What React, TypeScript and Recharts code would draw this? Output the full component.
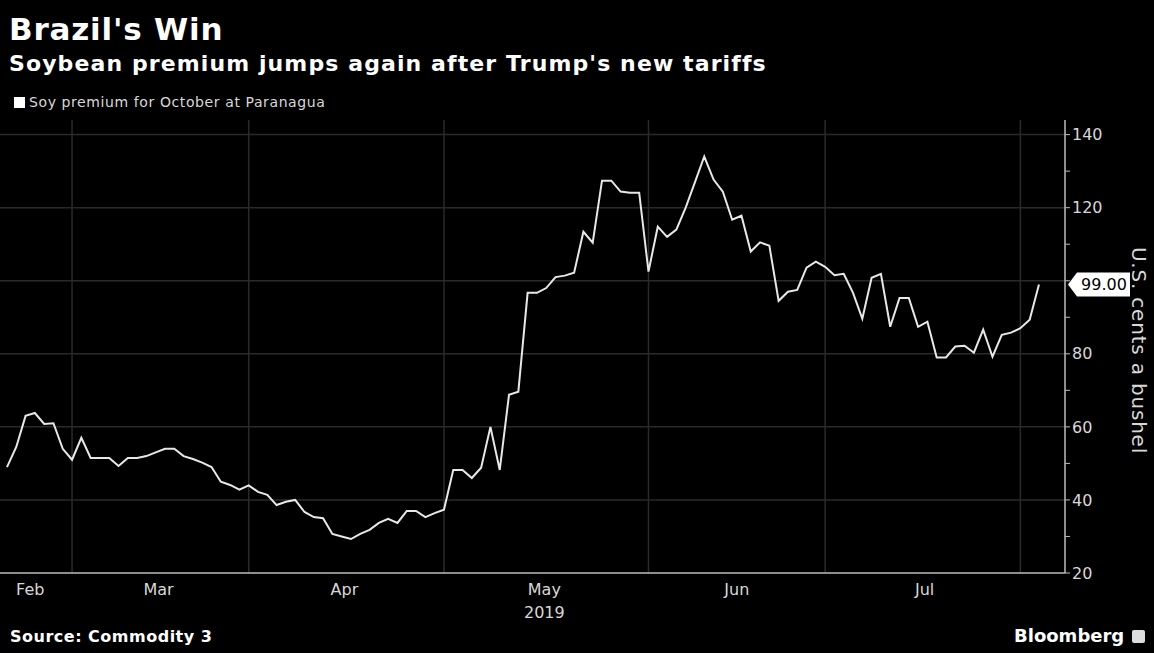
import { LineChart, Line, XAxis, YAxis, ReferenceLine } from 'recharts'

// daily trading-day series, Feb 20 → Aug 2 2019
const premium = [
  49, 54.5, 63, 63.8, 60.8, 61, 54, 51, 57, 51.5, 51.5, 51.5, 49.3, 51.5, 51.5, 52,
  53, 54, 54, 52, 51.2, 50.2, 49, 45, 44.1, 42.8, 44, 42.2, 41.4, 38.6, 39.5, 40,
  36.7, 35.3, 35, 30.7, 30, 29.3, 30.7, 31.8, 33.7, 34.8, 33.7, 37, 37, 35.3, 36.4,
  37.3, 48.2, 48.2, 46, 48.8, 60, 48.2, 68.8, 69.6, 96.7, 96.7, 98, 101, 101.4,
  102.2, 113.4, 110.4, 127.4, 127.4, 124.4, 124.1, 124.1, 102.5, 114.8, 112, 114,
  120, 127, 134, 127.7, 124.4, 116.7, 117.8, 108, 110.5, 109.6, 94.5, 97, 97.5,
  103.6, 105.2, 103.8, 101.5, 101.9, 96.7, 89.6, 100.8, 101.9, 87.4, 95.3, 95.3,
  87.4, 88.8, 79, 79, 82, 82.2, 80.3, 86.6, 79.2, 85.2, 85.8, 87, 89.3, 99,
]

const monthLabels = ['Feb', 'Mar', 'Apr', 'May', 'Jun', 'Jul']
const monthMids = [2.5, 16.3, 36.3, 57.8, 78.5, 98.7]
const monthStarts = [7, 26, 47, 69, 88, 109]

const yTicks = [20, 30, 40, 50, 60, 70, 80, 90, 100, 110, 120, 130, 140]
const yLabelled = [20, 40, 60, 80, 120, 140]
const yGrid = [40, 60, 80, 100, 120, 140]

const data = premium.map((v, i) => ({ i, v }))
const last = premium[premium.length - 1]

const axisFont = '"DejaVu Sans", Verdana, sans-serif'
const boldFont = '"DejaVu Sans", Verdana, sans-serif'

function MonthTick(props: any) {
  const { x, y, index } = props
  const label = monthLabels[index]
  return (
    <g>
      <text x={x} y={y + 14} textAnchor="middle" fill="#d8d8d8" fontSize={16} fontFamily={axisFont}>
        {label}
      </text>
      {label === 'May' && (
        <text x={x} y={y + 37} textAnchor="middle" fill="#d8d8d8" fontSize={16} fontFamily={axisFont}>
          2019
        </text>
      )}
    </g>
  )
}

function LastValue(props: any) {
  const { viewBox } = props
  const x = viewBox.x + viewBox.width + 3
  const y = viewBox.y
  const pts = `${x},${y} ${x + 9},${y - 12} ${x + 62},${y - 12} ${x + 62},${y + 12} ${x + 9},${y + 12}`
  return (
    <g>
      <polygon points={pts} fill="#ffffff" />
      <text x={x + 36} y={y + 6} textAnchor="middle" fill="#000" fontSize={16} fontFamily={axisFont}>
        {last.toFixed(2)}
      </text>
    </g>
  )
}

function UnitLabel(props: any) {
  const { viewBox } = props
  const cx = viewBox.x + viewBox.width - 15
  const cy = viewBox.y + viewBox.height / 2 + 4
  return (
    <text
      x={cx}
      y={cy}
      transform={`rotate(90, ${cx}, ${cy})`}
      textAnchor="middle"
      dominantBaseline="central"
      fill="#d8d8d8"
      fontSize={20}
      letterSpacing={0.8}
      fontFamily={axisFont}
    >
      U.S. cents a bushel
    </text>
  )
}

export default function App() {
  return (
    <div style={{ position: 'absolute', left: 0, top: 0, width: 1154, height: 653, background: '#000', overflow: 'hidden' }}>
      <div style={{ position: 'absolute', left: 9, top: 11, color: '#fff', fontFamily: boldFont, fontWeight: 'bold', fontSize: 31, letterSpacing: 0.8, lineHeight: '36px' }}>
        Brazil's Win
      </div>
      <div style={{ position: 'absolute', left: 9, top: 50, color: '#fff', fontFamily: boldFont, fontWeight: 'bold', fontSize: 22, letterSpacing: 1.1, lineHeight: '28px' }}>
        Soybean premium jumps again after Trump's new tariffs
      </div>
      <div style={{ position: 'absolute', left: 14, top: 93, color: '#d8d8d8', fontFamily: axisFont, fontSize: 14, letterSpacing: 0.6, lineHeight: '18px', display: 'flex', alignItems: 'center' }}>
        <span style={{ display: 'inline-block', width: 11, height: 11, background: '#fff', marginRight: 4 }} />
        Soy premium for October at Paranagua
      </div>

      <LineChart width={1154} height={653} data={data} margin={{ top: 120, right: 0, bottom: 0, left: 0 }}>
        {yGrid.map((v) => (
          <ReferenceLine key={'h' + v} y={v} stroke="#2a2a2a" strokeWidth={1.5} />
        ))}
        {monthStarts.map((v) => (
          <ReferenceLine key={'v' + v} x={v} stroke="#2a2a2a" strokeWidth={1.5} />
        ))}
        <XAxis
          dataKey="i"
          type="number"
          domain={[-0.75, 113.8]}
          ticks={monthMids}
          interval={0}
          tickLine={false}
          axisLine={{ stroke: '#bdbdbd', strokeWidth: 1.5 }}
          tick={<MonthTick />}
          height={80}
        />
        <YAxis
          orientation="right"
          domain={[20, 144]}
          ticks={yTicks}
          interval={0}
          width={89}
          tickSize={5}
          tickMargin={2}
          tickLine={{ stroke: '#bdbdbd' }}
          axisLine={{ stroke: '#bdbdbd', strokeWidth: 1.5 }}
          tick={{ fill: '#d8d8d8', fontSize: 16, fontFamily: axisFont }}
          tickFormatter={(v: number) => (yLabelled.includes(v) ? String(v) : '')}
          allowDataOverflow
          label={<UnitLabel />}
        />
        <ReferenceLine y={last} stroke="none" label={<LastValue />} />
        <Line
          type="linear"
          dataKey="v"
          stroke="#e8e8e8"
          strokeWidth={2}
          dot={false}
          isAnimationActive={false}
        />
      </LineChart>

      <div style={{ position: 'absolute', left: 10, top: 627, color: '#fff', fontFamily: boldFont, fontWeight: 'bold', fontSize: 16, letterSpacing: 0.5, lineHeight: '20px' }}>
        Source: Commodity 3
      </div>
      <div style={{ position: 'absolute', left: 1014, top: 625, color: '#fff', fontFamily: boldFont, fontWeight: 'bold', fontSize: 18, lineHeight: '22px', display: 'flex', alignItems: 'center' }}>
        Bloomberg
        <span style={{ display: 'inline-block', width: 13, height: 13, background: '#ddd', borderRadius: 2, marginLeft: 8 }} />
      </div>
    </div>
  )
}
